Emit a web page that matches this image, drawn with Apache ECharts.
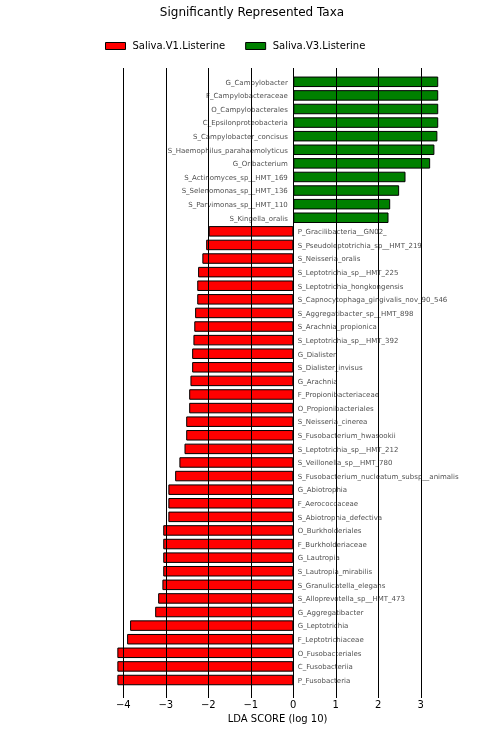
<!DOCTYPE html>
<html>
<head>
<meta charset="utf-8">
<script src="https://cdn.jsdelivr.net/npm/echarts@6/dist/echarts.min.js"></script>
<style>
html,body{margin:0;padding:0;background:#fff;}
#main{width:504px;height:738px;}
</style>
</head>
<body>
<div id="main"></div>
<script>
// taxa, top to bottom, with their LDA scores (positive = V3, negative = V1)
var taxa = [
  'G_Campylobacter', 'F_Campylobacteraceae', 'O_Campylobacterales', 'C_Epsilonproteobacteria',
  'S_Campylobacter_concisus', 'S_Haemophilus_parahaemolyticus', 'G_Oribacterium',
  'S_Actinomyces_sp__HMT_169', 'S_Selenomonas_sp__HMT_136', 'S_Parvimonas_sp__HMT_110',
  'S_Kingella_oralis',
  'P_Gracilibacteria__GN02_', 'S_Pseudoleptotrichia_sp__HMT_219', 'S_Neisseria_oralis',
  'S_Leptotrichia_sp__HMT_225', 'S_Leptotrichia_hongkongensis', 'S_Capnocytophaga_gingivalis_nov_90_546',
  'S_Aggregatibacter_sp__HMT_898', 'S_Arachnia_propionica', 'S_Leptotrichia_sp__HMT_392',
  'G_Dialister', 'S_Dialister_invisus', 'G_Arachnia', 'F_Propionibacteriaceae',
  'O_Propionibacteriales', 'S_Neisseria_cinerea', 'S_Fusobacterium_hwasookii',
  'S_Leptotrichia_sp__HMT_212', 'S_Veillonella_sp__HMT_780', 'S_Fusobacterium_nucleatum_subsp__animalis',
  'G_Abiotrophia', 'F_Aerococcaceae', 'S_Abiotrophia_defectiva', 'O_Burkholderiales',
  'F_Burkholderiaceae', 'G_Lautropia', 'S_Lautropia_mirabilis', 'S_Granulicatella_elegans',
  'S_Alloprevotella_sp__HMT_473', 'G_Aggregatibacter', 'G_Leptotrichia', 'F_Leptotrichiaceae',
  'O_Fusobacteriales', 'C_Fusobacteriia', 'P_Fusobacteria'
];
var lda = [
  3.41, 3.41, 3.41, 3.41, 3.39, 3.32, 3.22, 2.64, 2.49, 2.28, 2.24,
  -1.99, -2.05, -2.14, -2.24, -2.26, -2.26, -2.31, -2.33, -2.35,
  -2.38, -2.38, -2.42, -2.45, -2.45, -2.52, -2.52, -2.56, -2.68, -2.78,
  -2.94, -2.94, -2.94, -3.06, -3.06, -3.06, -3.06, -3.08, -3.18, -3.25,
  -3.84, -3.91, -4.14, -4.14, -4.14
];
var groups = ['Saliva.V1.Listerine', 'Saliva.V3.Listerine'];
var groupColors = ['#ff0000', '#008000'];
var xTicks = [-4, -3, -2, -1, 0, 1, 2, 3];

var v1 = lda.map(function (v) { return v < 0 ? v : '-'; });
var v3 = lda.map(function (v) { return v > 0 ? v : '-'; });
var labelPts = taxa.map(function (t, i) {
  return {
    value: [0, t],
    label: { position: lda[i] > 0 ? 'left' : 'right', distance: lda[i] > 0 ? 5 : 4 }
  };
});

var myChart = echarts.init(document.getElementById('main'));
var font = 'DejaVu Sans';

var option = {
  animation: false,
  textStyle: { fontFamily: font },
  title: {
    text: 'Significantly Represented Taxa',
    left: 'center',
    top: 2,
    textStyle: { fontFamily: font, fontSize: 12, fontWeight: 'normal', color: '#000' }
  },
  legend: {
    data: groups,
    icon: 'rect',
    left: 100,
    top: 36,
    itemWidth: 20,
    itemHeight: 7,
    itemGap: 20,
    itemStyle: { borderColor: '#000', borderWidth: 1 },
    textStyle: { fontFamily: font, fontSize: 10, color: '#000', padding: [0, 0, 0, 2] }
  },
  grid: [
    { left: 80.8, right: 40.7, top: 75, bottom: 51.2 },
    { left: 80.8, right: 40.7, top: 68, bottom: 40 }
  ],
  xAxis: [
    { gridIndex: 0, type: 'value', min: -5, max: 4, interval: 1, show: false },
    {
      gridIndex: 1, type: 'value', min: -5, max: 4, interval: 1, z: 10,
      axisLine: { show: false },
      axisTick: { show: false },
      splitLine: { show: true, showMinLine: false, showMaxLine: false, lineStyle: { color: '#000', width: 1 } },
      axisLabel: {
        showMinLabel: false, showMaxLabel: false, margin: 2,
        fontFamily: font, fontSize: 10, color: '#000',
        formatter: function (v) { return xTicks.indexOf(v) < 0 ? '' : String(v).replace('-', '\u2212'); }
      },
      name: 'LDA SCORE (log 10)',
      nameLocation: 'middle',
      nameGap: 15,
      nameTextStyle: { fontFamily: font, fontSize: 10, color: '#000', padding: [0, 0, 0, 11] }
    }
  ],
  yAxis: [
    { gridIndex: 0, type: 'category', data: taxa, inverse: true, show: false },
    { gridIndex: 1, type: 'value', show: false }
  ],
  series: [
    {
      name: groups[0], type: 'bar', stack: 'lda', data: v1, barWidth: 10.5,
      itemStyle: { color: groupColors[0], borderColor: '#000', borderWidth: 1 }
    },
    {
      name: groups[1], type: 'bar', stack: 'lda', data: v3, barWidth: 10.5,
      itemStyle: { color: groupColors[1], borderColor: '#000', borderWidth: 1 }
    },
    {
      type: 'scatter', data: labelPts, symbolSize: 1, silent: true, z: 5,
      itemStyle: { color: 'transparent' },
      label: {
        show: true, fontFamily: font, fontSize: 7, color: '#222', offset: [0, 1],
        formatter: function (p) { return p.value[1]; }
      }
    }
  ]
};

myChart.setOption(option);
</script>
</body>
</html>
